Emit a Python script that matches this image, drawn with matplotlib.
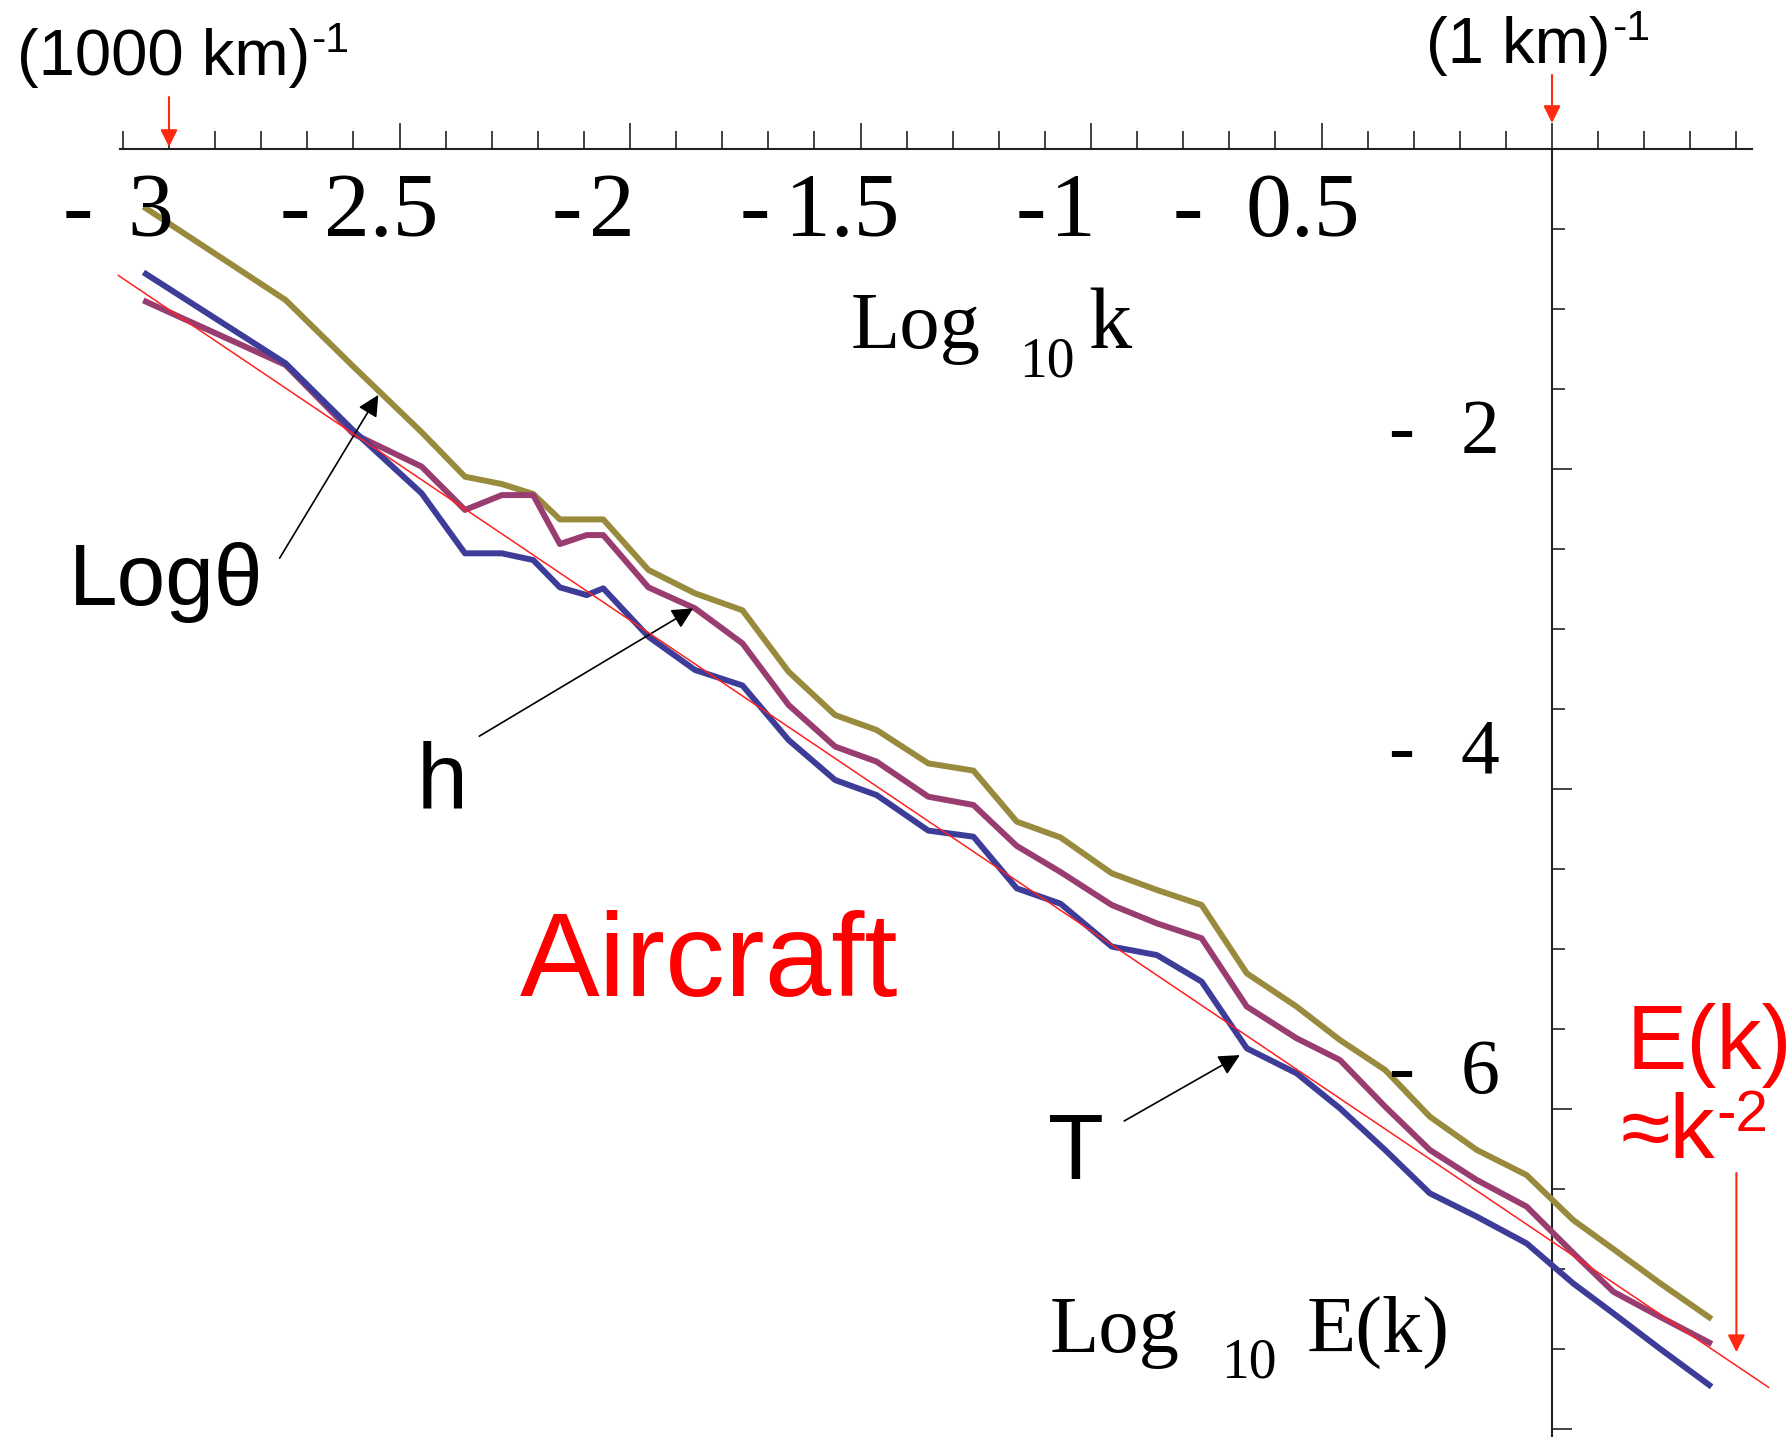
import numpy as np
import matplotlib.pyplot as plt
from matplotlib.ticker import FixedLocator
from matplotlib.transforms import IdentityTransform

plt.rcParams['font.family'] = ['Liberation Sans', 'DejaVu Sans']

# log10 k and log10 E(k)
log_k = [-3.05, -2.747, -2.60, -2.452, -2.358, -2.278, -2.210, -2.152, -2.094, -2.058,
         -1.960, -1.859, -1.756, -1.656, -1.555, -1.465, -1.353, -1.255, -1.161, -1.066,
         -0.955, -0.857, -0.760, -0.662, -0.554, -0.460, -0.362, -0.265, -0.163, -0.055,
         0.046, 0.133, 0.235, 0.341]
log_theta = [-0.371, -0.944, -1.36, -1.77, -2.048, -2.094, -2.156, -2.315, -2.315, -2.315,
             -2.631, -2.777, -2.883, -3.267, -3.538, -3.631, -3.840, -3.885, -4.204, -4.303,
             -4.527, -4.631, -4.725, -5.152, -5.36, -5.569, -5.756, -6.048, -6.256, -6.413,
             -6.694, -6.875, -7.09, -7.302]
h = [-0.954, -1.35, -1.78, -1.985, -2.256, -2.163, -2.163, -2.469, -2.413, -2.413,
     -2.74, -2.871, -3.09, -3.475, -3.735, -3.829, -4.048, -4.1, -4.356, -4.519,
     -4.725, -4.84, -4.933, -5.36, -5.558, -5.694, -5.985, -6.256, -6.444, -6.61,
     -6.9, -7.142, -7.30, -7.46]
T = [-0.781, -1.34, -1.76, -2.152, -2.527, -2.527, -2.569, -2.74, -2.788, -2.746,
     -3.048, -3.256, -3.353, -3.694, -3.944, -4.038, -4.26, -4.298, -4.621, -4.717,
     -4.985, -5.038, -5.204, -5.621, -5.777, -5.996, -6.256, -6.527, -6.673, -6.84,
     -7.09, -7.277, -7.50, -7.725]
# k^-2 reference line
fit_k = [-3.11, 0.47]
fit_E = [-0.79, -7.74]

x_ticks = [-3, -2.5, -2, -1.5, -1, -0.5]
x_tick_text = ['3', '2.5', '2', '1.5', '1', '0.5']
y_ticks = [-2, -4, -6]
y_tick_text = ['2', '4', '6']

fig = plt.figure(figsize=(17.89, 14.37), dpi=100)
ax = fig.add_axes([0, 0, 1, 1])
ax.set_xlim(-3.3666, 0.5141)
ax.set_ylim(-8.05, 0.93125)

ax.plot(log_k, log_theta, color='#998b3d', lw=4.3, zorder=3)
ax.plot(log_k, h, color='#993d71', lw=4.3, zorder=3)
ax.plot(log_k, T, color='#3d3d99', lw=4.3, zorder=3)
ax.plot(fit_k, fit_E, color='#ff2020', lw=1.1, zorder=4)

# axes crossing at (0, 0), Mathematica style
for s in ['right', 'bottom']:
    ax.spines[s].set_visible(False)
ax.spines['top'].set_position(('data', 0))
ax.spines['top'].set_bounds(-3.106, 0.433)
ax.spines['left'].set_position(('data', 0))
ax.spines['left'].set_bounds(-8.05, 0)
for s in ['top', 'left']:
    ax.spines[s].set_linewidth(1.5)
    ax.spines[s].set_color('#222222')

ax.xaxis.set_ticks_position('top')
ax.yaxis.set_ticks_position('left')
ax.xaxis.set_major_locator(FixedLocator(np.arange(-3, 0.01, 0.5)))
ax.xaxis.set_minor_locator(FixedLocator(np.arange(-3.1, 0.45, 0.1)))
ax.yaxis.set_major_locator(FixedLocator([-2, -4, -6, -8]))
ax.yaxis.set_minor_locator(FixedLocator(np.arange(-7.5, -0.4, 0.5)))
ax.tick_params(axis='x', which='major', direction='out', length=18.5, width=1.2, color='#222222')
ax.tick_params(axis='x', which='minor', direction='out', length=13, width=1.2, color='#222222')
ax.tick_params(axis='y', which='major', direction='in', length=14.5, width=1.2, color='#222222')
ax.tick_params(axis='y', which='minor', direction='in', length=9.5, width=1.2, color='#222222')
ax.tick_params(labeltop=False, labelbottom=False, labelleft=False, labelright=False)

serif = ['Liberation Serif', 'DejaVu Serif']
minus_dx = [-0.198, -0.228, -0.136, -0.230, -0.13, -0.290]
for t, s, d in zip(x_ticks, x_tick_text, minus_dx):
    ax.text(t - 0.04, -0.544, s, family=serif, fontsize=66, ha='center', va='baseline')
    ax.text(t + d, -0.544, '-', family=serif, fontsize=66, ha='center', va='baseline')
for t, s in zip(y_ticks, y_tick_text):
    ax.text(-0.156, t + 0.1, s, family=serif, fontsize=56, ha='center', va='baseline')
    ax.text(-0.327, t + 0.1, '-', family=serif, fontsize=56, ha='center', va='baseline')

# axis labels
ax.text(-1.522, -1.244, 'Log', family=serif, fontsize=58, va='baseline')
ax.text(-1.156, -1.422, '10', family=serif, fontsize=40, va='baseline')
ax.text(-1.005, -1.244, 'k', family=serif, fontsize=62, va='baseline')
ax.text(-1.089, -7.52, 'Log', family=serif, fontsize=58, va='baseline')
ax.text(-0.718, -7.68, '10', family=serif, fontsize=40, va='baseline')
ax.text(-0.532, -7.52, 'E(k)', family=serif, fontsize=58, va='baseline')

# series labels
black_arrow = dict(arrowstyle='-|>', color='black', lw=1.2, mutation_scale=32, shrinkA=0, shrinkB=0)
ax.text(-3.218, -2.848, 'Logθ', fontsize=63, va='baseline')
ax.annotate('', xy=(-2.546, -1.537), xytext=(-2.760, -2.557), arrowprops=black_arrow)
ax.text(-2.463, -4.118, 'h', fontsize=66, va='baseline')
ax.annotate('', xy=(-1.863, -2.871), xytext=(-2.327, -3.67), arrowprops=black_arrow)
ax.text(-1.094, -6.435, 'T', fontsize=66, va='baseline')
ax.annotate('', xy=(-0.677, -5.663), xytext=(-0.928, -6.075), arrowprops=black_arrow)

ax.text(-2.240, -5.295, 'Aircraft', fontsize=86, color='#ff0000', va='baseline')
ax.text(0.161, -5.75, 'E(k)', fontsize=65, color='#ff0000', va='baseline')

renderer = fig.canvas.get_renderer()


def sup_text(x, y, base, sup, size, sup_size, rise, color='black'):
    t = ax.text(x, y, base, fontsize=size, color=color, va='baseline')
    bb = t.get_window_extent(renderer=renderer)
    _, yb = ax.transData.transform((x, y))
    ax.text(bb.x1 + 1, yb + rise, sup, fontsize=sup_size, color=color,
            va='baseline', transform=IdentityTransform())


sup_text(0.149, -6.306, '≈k', '-2', 65, 42, 27, color='#ff0000')

# scale markers
red_arrow = dict(arrowstyle='-|>', color='#ff2a10', lw=1.5, mutation_scale=26, shrinkA=0, shrinkB=0)
sup_text(-3.329, 0.4625, '(1000 km)', '-1', 47, 31, 23)
ax.annotate('', xy=(-3.0, 0.0125), xytext=(-3.0, 0.325), arrowprops=red_arrow)
sup_text(-0.273, 0.5375, '(1 km)', '-1', 47, 31, 23)
ax.annotate('', xy=(0.0, 0.1625), xytext=(0.0, 0.4625), arrowprops=red_arrow)
ax.annotate('', xy=(0.400, -7.52), xytext=(0.400, -6.40), arrowprops=red_arrow)

fig.savefig('out.png', dpi=100)
